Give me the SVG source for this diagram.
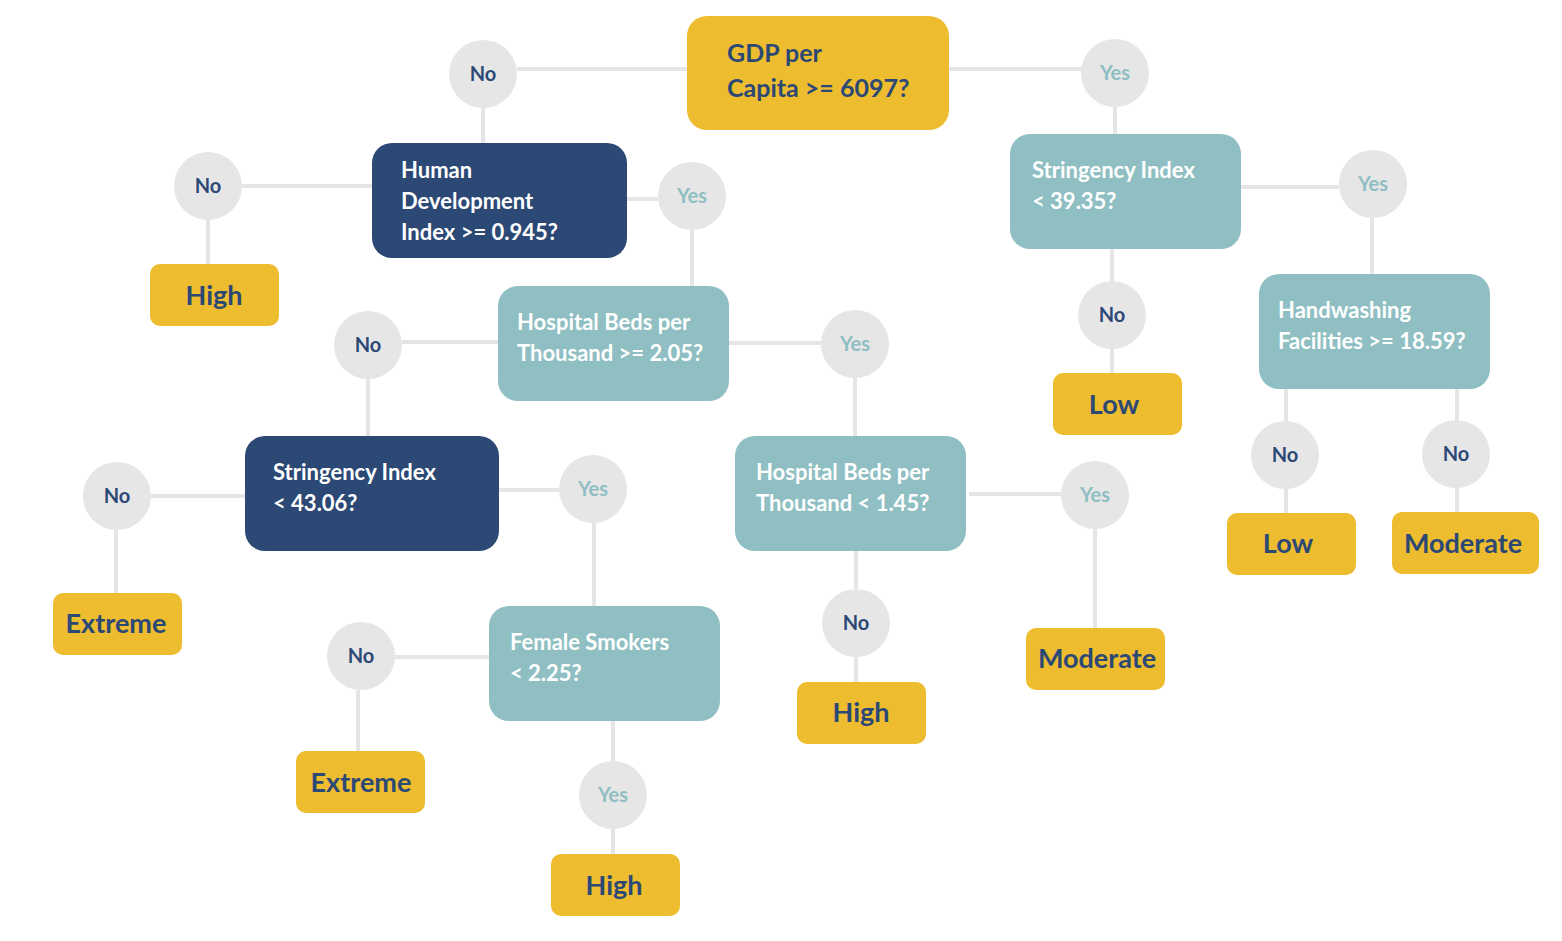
<svg xmlns="http://www.w3.org/2000/svg" width="1562" height="941" viewBox="0 0 1562 941">
<style>
.ln{stroke:#E5E5E5;stroke-width:4;fill:none}
.circ{fill:#E6E6E6}
.gold{fill:#EDBC2F}
.navy{fill:#2C4875}
.teal{fill:#8FBFC3}
text{font-family:Lato,"Open Sans","Liberation Sans",sans-serif;font-weight:bold}
.q{font-size:22px;fill:#FFFFFF}
.qg{font-size:25px;fill:#2C4875}
.leaf{font-size:27px;fill:#2C4875;text-anchor:middle}
.no{font-size:20px;fill:#2C4875;text-anchor:middle}
.yes{font-size:20px;fill:#8FBFC3;text-anchor:middle}
</style>
<rect width="1562" height="941" fill="#FFFFFF"/>
<g id="connectors">
<path class="ln" d="M517 69H687M949 69H1082M483 108V143M242 186H372M208 220V264M627 199H658M692 230V286M402 342H498M368 379V436M729 343H821M855 378V436M151 496H245M116 530V593M499 490H559M594 523V606M395 657H489M358 690V751M613 721V761M613 829V854M969 494H1061M1095 529V628M856 551V589M856 657V682M1115 107V134M1112 249V281M1112 349V373M1241 187H1339M1372 218V274M1286 389V421M1286 489V513M1457 389V420M1457 488V512"/>
</g>
<g id="n-gdp"><rect class="gold" x="687" y="16" width="262" height="114" rx="20"/><text class="qg" x="727" y="62">GDP per</text><text class="qg" x="727" y="97">Capita &gt;= 6097?</text></g>
<g id="c-no1"><circle class="circ" cx="483" cy="74" r="34"/><text class="no" x="483" y="81">No</text></g>
<g id="c-yes1"><circle class="circ" cx="1115" cy="73" r="34"/><text class="yes" x="1115" y="80">Yes</text></g>
<g id="n-hdi"><rect class="navy" x="372" y="143" width="255" height="115" rx="20"/><text class="q" x="401" y="178">Human</text><text class="q" x="401" y="209">Development</text><text class="q" x="401" y="240">Index &gt;= 0.945?</text></g>
<g id="c-no2"><circle class="circ" cx="208" cy="186" r="34"/><text class="no" x="208" y="193">No</text></g>
<g id="l-high1"><rect class="gold" x="150" y="264" width="129" height="62" rx="10"/><text class="leaf" x="214" y="305">High</text></g>
<g id="c-yes2"><circle class="circ" cx="692" cy="196" r="34"/><text class="yes" x="692" y="203">Yes</text></g>
<g id="n-hb1"><rect class="teal" x="498" y="286" width="231" height="115" rx="20"/><text class="q" x="517" y="330">Hospital Beds per</text><text class="q" x="517" y="361">Thousand &gt;= 2.05?</text></g>
<g id="c-no3"><circle class="circ" cx="368" cy="345" r="34"/><text class="no" x="368" y="352">No</text></g>
<g id="c-yes3"><circle class="circ" cx="855" cy="344" r="34"/><text class="yes" x="855" y="351">Yes</text></g>
<g id="n-si2"><rect class="navy" x="245" y="436" width="254" height="115" rx="20"/><text class="q" x="273" y="480">Stringency Index</text><text class="q" x="273" y="511">&lt; 43.06?</text></g>
<g id="c-no4"><circle class="circ" cx="117" cy="496" r="34"/><text class="no" x="117" y="503">No</text></g>
<g id="l-ext1"><rect class="gold" x="53" y="593" width="129" height="62" rx="10"/><text class="leaf" x="116" y="633">Extreme</text></g>
<g id="c-yes4"><circle class="circ" cx="593" cy="489" r="34"/><text class="yes" x="593" y="496">Yes</text></g>
<g id="n-fs"><rect class="teal" x="489" y="606" width="231" height="115" rx="20"/><text class="q" x="510" y="650">Female Smokers</text><text class="q" x="510" y="681">&lt; 2.25?</text></g>
<g id="c-no5"><circle class="circ" cx="361" cy="656" r="34"/><text class="no" x="361" y="663">No</text></g>
<g id="l-ext2"><rect class="gold" x="296" y="751" width="129" height="62" rx="10"/><text class="leaf" x="361" y="792">Extreme</text></g>
<g id="c-yes5"><circle class="circ" cx="613" cy="795" r="34"/><text class="yes" x="613" y="802">Yes</text></g>
<g id="l-high2"><rect class="gold" x="551" y="854" width="129" height="62" rx="10"/><text class="leaf" x="614" y="895">High</text></g>
<g id="n-hb2"><rect class="teal" x="735" y="436" width="231" height="115" rx="20"/><text class="q" x="756" y="480">Hospital Beds per</text><text class="q" x="756" y="511">Thousand &lt; 1.45?</text></g>
<g id="c-yes6"><circle class="circ" cx="1095" cy="495" r="34"/><text class="yes" x="1095" y="502">Yes</text></g>
<g id="l-mod1"><rect class="gold" x="1026" y="628" width="139" height="62" rx="10"/><text class="leaf" x="1097" y="668">Moderate</text></g>
<g id="c-no6"><circle class="circ" cx="856" cy="623" r="34"/><text class="no" x="856" y="630">No</text></g>
<g id="l-high3"><rect class="gold" x="797" y="682" width="129" height="62" rx="10"/><text class="leaf" x="861" y="722">High</text></g>
<g id="n-si1"><rect class="teal" x="1010" y="134" width="231" height="115" rx="20"/><text class="q" x="1032" y="178">Stringency Index</text><text class="q" x="1032" y="209">&lt; 39.35?</text></g>
<g id="c-no7"><circle class="circ" cx="1112" cy="315" r="34"/><text class="no" x="1112" y="322">No</text></g>
<g id="l-low1"><rect class="gold" x="1053" y="373" width="129" height="62" rx="10"/><text class="leaf" x="1114" y="414">Low</text></g>
<g id="c-yes7"><circle class="circ" cx="1373" cy="184" r="34"/><text class="yes" x="1373" y="191">Yes</text></g>
<g id="n-hw"><rect class="teal" x="1259" y="274" width="231" height="115" rx="20"/><text class="q" x="1278" y="318">Handwashing</text><text class="q" x="1278" y="349">Facilities &gt;= 18.59?</text></g>
<g id="c-no8"><circle class="circ" cx="1285" cy="455" r="34"/><text class="no" x="1285" y="462">No</text></g>
<g id="l-low2"><rect class="gold" x="1227" y="513" width="129" height="62" rx="10"/><text class="leaf" x="1288" y="553">Low</text></g>
<g id="c-no9"><circle class="circ" cx="1456" cy="454" r="34"/><text class="no" x="1456" y="461">No</text></g>
<g id="l-mod2"><rect class="gold" x="1392" y="512" width="147" height="62" rx="10"/><text class="leaf" x="1463" y="553">Moderate</text></g>
</svg>
